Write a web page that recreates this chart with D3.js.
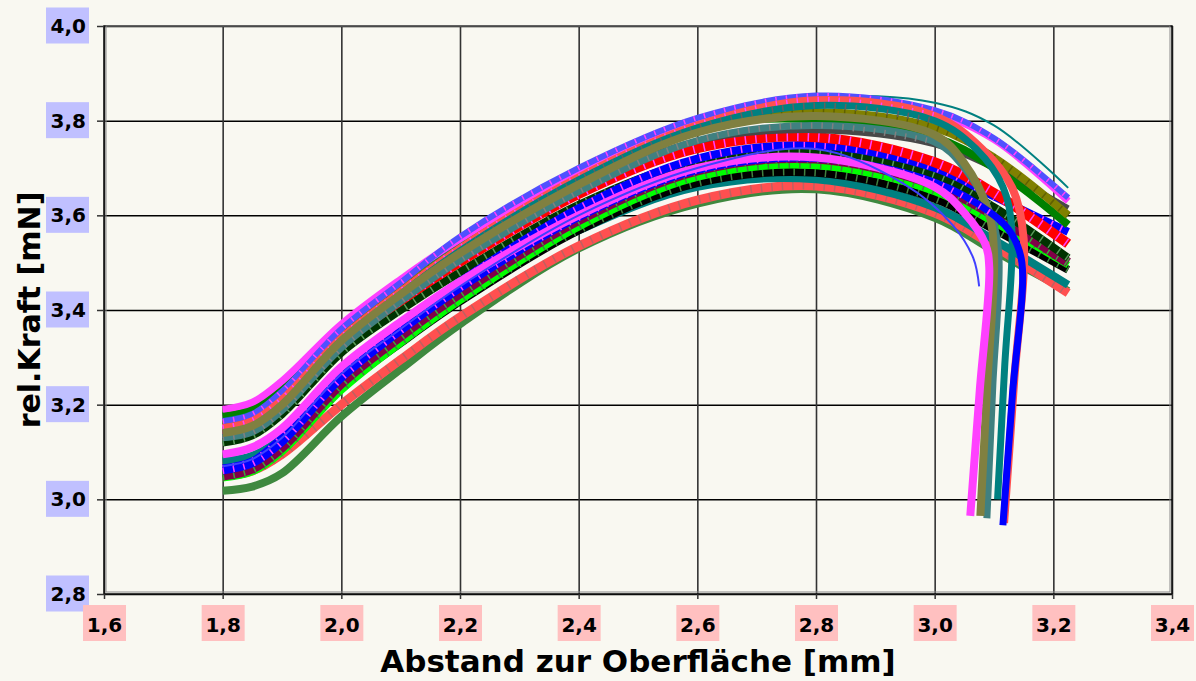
<!DOCTYPE html>
<html>
<head>
<meta charset="utf-8">
<script src="https://cdn.jsdelivr.net/npm/d3@7"></script>
<style>
  body { margin: 0; background: #f9f8f1; }
  text { font-family: "DejaVu Sans", Verdana, sans-serif; font-weight: bold; }
</style>
</head>
<body>
<script>
// tick values of both axes
var xTicks = [1.6, 1.8, 2.0, 2.2, 2.4, 2.6, 2.8, 3.0, 3.2, 3.4];
var yTicks = [2.8, 3.0, 3.2, 3.4, 3.6, 3.8, 4.0];

// x positions shared by the measured curves [mm]
var xGrid = [1.8, 1.85, 1.9, 2.0, 2.1, 2.2, 2.4, 2.6, 2.8, 3.0, 3.1, 3.225];

// rel. force per curve [mN]
var curveValues = [
  [3.018, 3.027, 3.055, 3.175, 3.275, 3.37, 3.53, 3.625, 3.655, 3.595, 3.525, 3.44],
  [3.05, 3.06, 3.095, 3.20, 3.295, 3.385, 3.535, 3.632, 3.662, 3.605, 3.535, 3.436],
  [3.08, 3.092, 3.13, 3.255, 3.345, 3.43, 3.568, 3.66, 3.676, 3.617, 3.548, 3.453],
  [3.052, 3.065, 3.105, 3.235, 3.33, 3.418, 3.568, 3.668, 3.69, 3.635, 3.57, 3.485],
  [3.045, 3.058, 3.10, 3.23, 3.33, 3.42, 3.575, 3.68, 3.705, 3.65, 3.585, 3.495],
  [3.05, 3.065, 3.11, 3.245, 3.345, 3.435, 3.59, 3.695, 3.72, 3.665, 3.60, 3.50],
  [3.12, 3.135, 3.18, 3.31, 3.40, 3.48, 3.622, 3.715, 3.735, 3.685, 3.617, 3.51],
  [3.065, 3.08, 3.13, 3.27, 3.37, 3.46, 3.615, 3.72, 3.748, 3.70, 3.64, 3.565],
  [3.14, 3.155, 3.20, 3.33, 3.42, 3.502, 3.645, 3.742, 3.765, 3.712, 3.647, 3.54],
  [3.14, 3.155, 3.20, 3.335, 3.428, 3.513, 3.658, 3.757, 3.78, 3.75, 3.70, 3.615],
  [3.175, 3.19, 3.235, 3.36, 3.455, 3.54, 3.685, 3.788, 3.803, 3.765, 3.70, 3.58],
  [3.16, 3.175, 3.22, 3.35, 3.443, 3.532, 3.678, 3.785, 3.818, 3.785, 3.722, 3.60],
  [3.17, 3.185, 3.23, 3.355, 3.455, 3.543, 3.692, 3.80, 3.85, 3.838, 3.79, 3.658],
  [3.19, 3.205, 3.25, 3.37, 3.465, 3.55, 3.692, 3.797, 3.842, 3.815, 3.76, 3.63],
  [3.165, 3.18, 3.228, 3.36, 3.458, 3.555, 3.70, 3.806, 3.853, 3.822, 3.763, 3.637],
  [3.15, 3.165, 3.21, 3.34, 3.438, 3.53, 3.68, 3.79, 3.843, 3.81],
  [3.13, 3.145, 3.195, 3.33, 3.433, 3.525, 3.675, 3.785, 3.832, 3.80],
  [3.13, 3.142, 3.188, 3.32, 3.418, 3.505, 3.65, 3.758, 3.79, 3.755],
  [3.14, 3.155, 3.20, 3.335, 3.433, 3.52, 3.665, 3.775, 3.81, 3.77],
  [3.06, 3.075, 3.12, 3.255, 3.355, 3.445, 3.595, 3.695, 3.72, 3.67, 3.60],
  [3.095, 3.11, 3.15, 3.28, 3.375, 3.46, 3.60, 3.70, 3.722, 3.66],
  [3.07, 3.085, 3.13, 3.265, 3.36, 3.45, 3.60, 3.70, 3.74]
];

// the curves that break off and fall near 3.1 mm: [x, y] after the shared grid
var dropTails = [
  null, null, null, null, null, null, null, null, null, null, null, null, null, null, null,
  [[3.08, 3.74], [3.13, 3.66], [3.15, 3.55], [3.134, 3.25], [3.117, 2.95]],
  [[3.07, 3.74], [3.115, 3.66], [3.13, 3.57], [3.118, 3.28], [3.106, 3.0]],
  [[3.05, 3.70], [3.095, 3.60], [3.108, 3.52], [3.098, 3.24], [3.088, 2.96]],
  [[3.05, 3.71], [3.09, 3.61], [3.10, 3.52], [3.0885, 3.24], [3.077, 2.965]],
  [[3.13, 3.56], [3.147, 3.50], [3.131, 3.22], [3.115, 2.945]],
  [[3.05, 3.605], [3.085, 3.54], [3.092, 3.49], [3.076, 3.23], [3.06, 2.965]],
  [[2.95, 3.665], [3.03, 3.58], [3.065, 3.51], [3.075, 3.45]]
];

var curveColors = ["#3f893f", "#ff5050", "#008080", "#000000", "#00ff00", "#800048",
  "#003300", "#0000ff", "#ff0000", "#484848", "#008000", "#808000", "#008080",
  "#ff40ff", "#5050ff", "#ff5050", "#008080", "#408080", "#808040", "#0000ff",
  "#ff40ff", "#4040ff"];
var curveWidths = [8, 9, 8, 8, 7, 10, 8, 8, 10, 6, 8, 8, 2, 7, 6, 8, 7, 7, 8, 7, 8, 2];
var markColors = [null, "#c06060", null, "#408040", "#408040", "#40a040", "#5a9a5a",
  "#ff40ff", "#ff40ff", null, null, "#606000", null, null, "#ff40ff", "#ff40ff",
  "#606060", "#808080", null, "#ff40ff", null, null];

var width = 1196, height = 681;
var plot = {left: 104, right: 1172, top: 26, bottom: 594};

var svg = d3.select("body").append("svg")
    .attr("width", width)
    .attr("height", height);

var x = d3.scaleLinear().domain([1.6, 3.4]).range([plot.left, plot.right]);
var y = d3.scaleLinear().domain([2.8, 4.0]).range([plot.bottom, plot.top]);

var fmt = function(d) { return d.toFixed(1).replace(".", ","); };

// grid lines
svg.append("g")
    .attr("transform", "translate(" + plot.left + ",0)")
    .call(d3.axisLeft(y).tickValues(yTicks).tickSize(-(plot.right - plot.left)).tickFormat(""))
    .call(function(s) { s.select(".domain").remove(); })
    .selectAll("line").attr("stroke", "#000").attr("stroke-width", 1.5);
svg.append("g")
    .attr("transform", "translate(0," + plot.bottom + ")")
    .call(d3.axisBottom(x).tickValues(xTicks).tickSize(-(plot.bottom - plot.top)).tickFormat(""))
    .call(function(s) { s.select(".domain").remove(); })
    .selectAll("line").attr("stroke", "#333").attr("stroke-width", 1.6);

// plot frame, double edged like the original
svg.append("rect")
    .attr("x", plot.left).attr("y", plot.top)
    .attr("width", plot.right - plot.left).attr("height", plot.bottom - plot.top)
    .attr("fill", "none").attr("stroke", "#111").attr("stroke-width", 1.5);
svg.append("rect")
    .attr("x", plot.left + 2).attr("y", plot.top)
    .attr("width", plot.right - plot.left - 4).attr("height", plot.bottom - plot.top - 2)
    .attr("fill", "none").attr("stroke", "#888").attr("stroke-width", 1);

// y axis with blue label boxes
var yAxis = svg.append("g")
    .attr("transform", "translate(" + plot.left + ",0)")
    .call(d3.axisLeft(y).tickValues(yTicks).tickSize(7).tickPadding(11).tickFormat(fmt));
yAxis.select(".domain").remove();
yAxis.selectAll("line").attr("stroke", "#333").attr("stroke-width", 1.5);
yAxis.selectAll(".tick").insert("rect", "text")
    .attr("x", -58).attr("y", -19).attr("width", 43).attr("height", 36)
    .attr("fill", "#c0c0ff");
yAxis.selectAll("text")
    .attr("fill", "#000")
    .style("font-size", "20px")
    .style("font-family", "'DejaVu Sans', Verdana, sans-serif")
    .style("font-weight", "bold");

// x axis with pink label boxes
var xAxis = svg.append("g")
    .attr("transform", "translate(0," + plot.bottom + ")")
    .call(d3.axisBottom(x).tickValues(xTicks).tickSize(5).tickPadding(19).tickFormat(fmt));
xAxis.select(".domain").remove();
xAxis.selectAll("line").attr("stroke", "#333").attr("stroke-width", 1.5);
xAxis.selectAll(".tick").insert("rect", "text")
    .attr("x", -21.5).attr("y", 11).attr("width", 43).attr("height", 36)
    .attr("fill", "#ffc0c0");
xAxis.selectAll("text")
    .attr("fill", "#000")
    .style("font-size", "20px")
    .style("font-family", "'DejaVu Sans', Verdana, sans-serif")
    .style("font-weight", "bold");

// curves
var line = d3.line()
    .x(function(d) { return x(d[0]); })
    .y(function(d) { return y(d[1]); })
    .curve(d3.curveCatmullRom.alpha(0.5));

var curves = curveValues.map(function(vals, i) {
  var body = vals.map(function(v, j) { return [xGrid[j], v]; });
  var pts = dropTails[i] ? body.concat(dropTails[i]) : body;
  return {points: pts, body: body, color: curveColors[i], w: curveWidths[i], mark: markColors[i]};
});

var curveGroup = svg.append("g").attr("fill", "none");
curves.forEach(function(c) {
  curveGroup.append("path")
      .attr("d", line(c.points))
      .attr("stroke", c.color)
      .attr("stroke-width", c.w)
      .attr("stroke-linejoin", "round");
  if (c.mark) {
    // little dash markers across the thick lines
    curveGroup.append("path")
        .attr("d", line(c.body))
        .attr("stroke", c.mark)
        .attr("stroke-width", c.w - 1)
        .attr("stroke-dasharray", "1.5,9");
  }
});

// axis titles
svg.append("text")
    .attr("x", (plot.left + plot.right) / 2)
    .attr("y", 672)
    .attr("text-anchor", "middle")
    .style("font-size", "31px")
    .text("Abstand zur Oberfläche [mm]");
svg.append("text")
    .attr("transform", "translate(40," + (plot.top + plot.bottom) / 2 + ") rotate(-90)")
    .attr("text-anchor", "middle")
    .style("font-size", "30px")
    .text("rel.Kraft [mN]");
</script>
</body>
</html>
